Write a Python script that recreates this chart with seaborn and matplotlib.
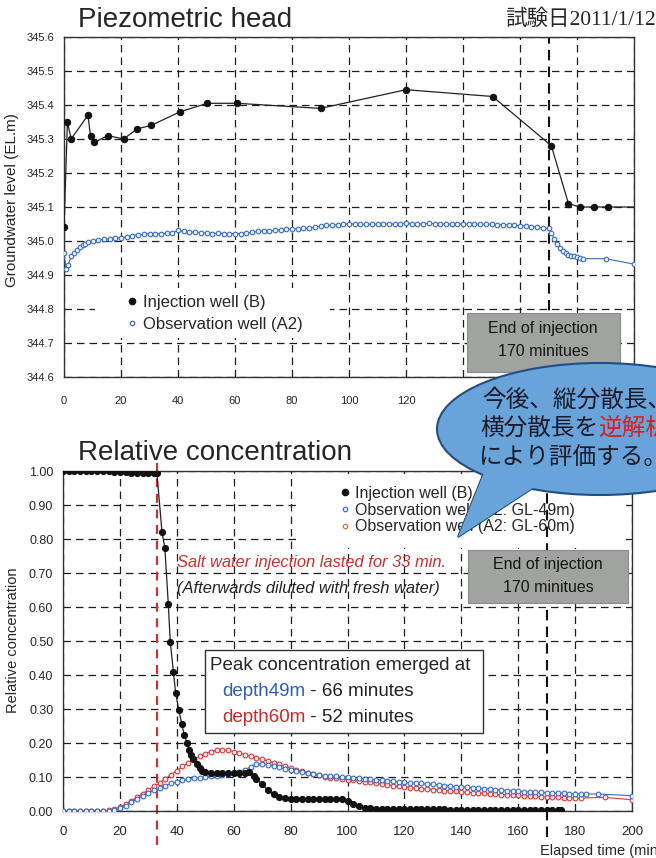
"""Piezometric head / relative concentration during the salt water tracer test."""

import matplotlib
matplotlib.use('Agg')
import matplotlib.pyplot as plt
import seaborn as sns
from matplotlib.patches import Rectangle, Ellipse, Polygon
from matplotlib.lines import Line2D

sns.set_style("white")
plt.rcParams['font.family'] = ['Liberation Sans', 'Noto Sans CJK JP', 'DejaVu Sans']

# ---- data ----
x_ticks = [0, 20, 40, 60, 80, 100, 120, 140, 160, 180, 200]
head_ticks = [344.6, 344.7, 344.8, 344.9, 345.0, 345.1, 345.2, 345.3, 345.4, 345.5, 345.6]
conc_ticks = [0.0, 0.1, 0.2, 0.3, 0.4, 0.5, 0.6, 0.7, 0.8, 0.9, 1.0]

# injection well (B), water level
inj_t_head = [0, 1.2, 2.5, 8.4, 9.3, 10.6, 15.4, 20.9, 25.7, 30.6, 40.7, 50.3,
              60.7, 90.0, 120.0, 150.4, 171.0, 177.0, 181.0, 186.0, 191.0, 200.0]
inj_head = [345.04, 345.35, 345.30, 345.37, 345.31, 345.29, 345.31, 345.30,
            345.33, 345.34, 345.38, 345.405, 345.405, 345.39, 345.445, 345.425,
            345.28, 345.11, 345.10, 345.10, 345.10, 345.10]

# observation well (A2), water level
obs_t_head = [0, 0.7, 1.5, 2.5, 3.5, 4.5, 5.5, 6.5, 7.5, 8.5,
              10, 12, 14, 16, 18, 20, 22, 24, 26, 28, 30, 32, 34, 36, 38,
              40, 42, 44, 46, 48, 50, 52, 54, 56, 58, 60, 62, 64, 66, 68,
              70, 72, 74, 76, 78, 80, 82, 84, 86, 88, 90, 92, 94, 96, 98,
              100, 102, 104, 106, 108, 110, 112, 114, 116, 118, 120, 122, 124, 126, 128,
              130, 132, 134, 136, 138, 140, 142, 144, 146, 148, 150, 152, 154, 156, 158,
              160, 162, 164, 166, 168, 170, 171, 172, 173, 174, 175, 176, 177, 178, 179,
              180, 181, 182, 190, 200]
obs_head = [344.965, 344.918, 344.930, 344.955, 344.965, 344.975, 344.982, 344.988, 344.992, 344.996,
            345.000, 345.003, 345.005, 345.006, 345.008, 345.010, 345.012, 345.016, 345.018, 345.020,
            345.021, 345.022, 345.022, 345.023, 345.024,
            345.031, 345.028, 345.026, 345.026, 345.025, 345.024, 345.022, 345.023, 345.022, 345.021,
            345.022, 345.022, 345.024, 345.026, 345.028,
            345.029, 345.030, 345.031, 345.033, 345.034, 345.035, 345.036, 345.037, 345.038, 345.040,
            345.044, 345.046, 345.047, 345.048, 345.049,
            345.050, 345.050, 345.050, 345.049, 345.050, 345.050, 345.051, 345.050, 345.050, 345.051,
            345.052, 345.051, 345.050, 345.051, 345.052,
            345.051, 345.050, 345.050, 345.050, 345.050, 345.050, 345.050, 345.049, 345.050, 345.049,
            345.049, 345.048, 345.048, 345.047, 345.046,
            345.045, 345.044, 345.042, 345.040, 345.039, 345.037, 345.025, 345.005, 344.990, 344.980,
            344.972, 344.965, 344.960, 344.957, 344.955,
            344.952, 344.950, 344.948, 344.948, 344.932]

# relative concentration, 2-minute readings
t2 = [0, 2, 4, 6, 8, 10, 12, 14, 16, 18, 20, 22, 24, 26, 28, 30, 32, 34, 36, 38,
      40, 42, 44, 46, 48, 50, 52, 54, 56, 58, 60, 62, 64, 66, 68, 70, 72, 74, 76, 78,
      80, 82, 84, 86, 88, 90, 92, 94, 96, 98, 100, 102, 104, 106, 108, 110, 112, 114, 116, 118,
      120, 122, 124, 126, 128, 130, 132, 134, 136, 138, 140, 142, 144, 146, 148, 150, 152, 154, 156, 158,
      160, 162, 164, 166, 168, 170, 172, 174, 176, 178, 180]

gl49_t = t2 + [182, 184, 188, 200]
gl49 = [0, 0, 0, 0, 0, 0, 0, 0, 0,
        .002, .008, .016, .026, .036, .045, .053, .061, .068, .075, .081,
        .086, .090, .093, .096, .098, .100, .102, .104, .106, .108, .111,
        .116, .122, .130, .138, .139, .136, .132, .128, .124, .120,
        .117, .114, .111, .108, .106, .104, .103, .102, .101, .100,
        .098, .097, .095, .094, .092, .091, .089, .088, .086, .085,
        .083, .082, .081, .079, .078, .077, .075, .074, .072, .071,
        .070, .068, .067, .065, .064, .063, .062, .060, .059, .058,
        .057, .056, .055, .055, .054, .053, .052, .052, .051, .051,
        .050, .050, .050, .045]

gl60_t = t2 + [182, 190.5, 200]
gl60 = [0, 0, 0, 0, 0, 0, 0, 0,
        .002, .006, .012, .020, .030, .040, .051, .062, .073, .083, .095, .107,
        .119, .131, .142, .152, .161, .169, .175, .179, .180, .178, .175,
        .171, .166, .161, .157, .152, .147, .142, .137, .132, .127,
        .122, .117, .113, .109, .105, .101, .098, .096, .094, .092,
        .090, .088, .086, .084, .081, .079, .077, .075, .073, .071,
        .069, .068, .066, .065, .063, .062, .060, .059, .058, .056,
        .055, .054, .053, .052, .050, .049, .048, .047, .047, .046,
        .045, .044, .043, .042, .042, .041, .040, .039, .039, .038,
        .038, .040, .033]

inj_t_conc = [0, 2, 4, 6, 8, 10, 12, 14, 16, 18, 20, 22, 24, 26, 28, 30, 32, 33,
              34.8, 35.8, 37.0, 37.7, 38.8, 39.6, 40.7, 41.7, 42.6, 43.6, 44.3, 45.1, 45.8,
              47, 48, 49, 50, 52, 54, 56, 58, 60, 62, 64, 65.5, 67, 68, 70, 72, 74, 76, 78,
              80, 82, 84, 86, 88, 90, 92, 94, 96, 98, 100, 102, 104, 106, 108, 110,
              112, 114, 116, 118, 120, 122, 124, 126, 128, 130, 132, 134,
              136, 138, 140, 142, 144, 146, 148, 150, 152, 154, 156, 158,
              160, 162, 164, 166, 168, 170, 172, 174, 175]
inj_conc = [1.0, 1.0, 1.0, 1.0, 1.0, 1.0, 1.0, 1.0, 1.0,
            .997, .996, .996, .995, .995, .995, .994, .994, .994,
            .82, .774, .61, .498, .41, .346, .297, .257, .225, .200, .180, .165, .153,
            .138, .127, .119, .114, .112, .111, .111, .111, .111, .112, .113, .115,
            .104, .094, .078, .062, .050, .042, .038,
            .036, .036, .036, .036, .036, .036, .036, .036, .036, .034, .029, .022, .015,
            .010, .008, .007,
            .006, .006, .006, .006, .006, .006, .006, .006, .006, .006, .006, .006,
            .002, .002, .002, .002, .002, .002, .002, .002, .002, .002, .002, .002,
            .002, .002, .002, .002, .002, .002, .002, .002, .002]

# ---- layout helpers (slide pixel coords -> figure fraction) ----
W, H = 656, 858


def fx(x):
    return x / W


def fy(y):
    return 1 - y / H


BLUE = '#3a6cc8'
RED = '#d63c3c'
GRID = dict(color='#1e1e1e', linestyle=(0, (6, 4)), linewidth=0.9)

fig = plt.figure(figsize=(6.56, 8.58), dpi=100)
ax1 = fig.add_axes([fx(64), fy(377), (634 - 64) / W, (377 - 37) / H])
ax2 = fig.add_axes([fx(63), fy(811), (632 - 63) / W, (811 - 471) / H])

for ax in (ax1, ax2):
    ax.set_xlim(0, 200)
    ax.set_xticks(x_ticks)
    ax.grid(True, **GRID)
    ax.set_axisbelow(True)
    ax.tick_params(length=0)
    for s in ax.spines.values():
        s.set_color('#333333')
        s.set_linewidth(1.0)
    ax.set_xlabel('')
    ax.set_ylabel('')

# ---- top: piezometric head ----
ax1.set_ylim(344.6, 345.6)
ax1.set_yticks(head_ticks)
ax1.set_yticklabels([f'{v:.1f}' for v in head_ticks])
ax1.tick_params(axis='y', labelsize=8, pad=7)
ax1.tick_params(axis='x', labelsize=8, pad=14)
ax1.axvline(170, color='#111111', linestyle=(0, (5, 3)), linewidth=1.5, zorder=1.2)

sns.lineplot(x=obs_t_head, y=obs_head, ax=ax1, color=BLUE, linewidth=0.8,
             marker='o', markersize=3.3, markerfacecolor='#eef3fb',
             markeredgecolor=BLUE, markeredgewidth=0.8, zorder=3)
sns.lineplot(x=inj_t_head, y=inj_head, ax=ax1, color='#222222', linewidth=0.9,
             marker='o', markersize=4.6, markerfacecolor='#111111',
             markeredgecolor='#111111', markevery=list(range(len(inj_t_head) - 1)),
             zorder=4)

ax1.add_patch(Rectangle((fx(95), fy(338)), (330 - 95) / W, (338 - 288) / H,
                        transform=fig.transFigure, facecolor='white',
                        edgecolor='none', zorder=1))
top_handles = [
    Line2D([], [], linestyle='none', marker='o', markersize=4.5,
           markerfacecolor='#111111', markeredgecolor='#111111'),
    Line2D([], [], linestyle='none', marker='o', markersize=3.2,
           markerfacecolor='white', markeredgecolor=BLUE, markeredgewidth=0.9),
]
ax1.legend(top_handles, ['Injection well (B)', 'Observation well (A2)'],
           loc='upper left', bbox_to_anchor=(fx(126), fy(294.5)),
           bbox_transform=fig.transFigure, frameon=False, fontsize=12,
           borderpad=0, borderaxespad=0, handlelength=0.7, handletextpad=0.32,
           labelspacing=0.42)

# ---- bottom: relative concentration ----
ax2.set_ylim(0, 1.0)
ax2.set_yticks(conc_ticks)
ax2.set_yticklabels([f'{v:.2f}' for v in conc_ticks])
ax2.tick_params(axis='y', labelsize=9, pad=7)
ax2.tick_params(axis='x', labelsize=9.5, pad=11)

ax2.axvline(170, ymin=-0.075, ymax=1.0, color='#111111', linestyle=(0, (5, 3)),
            linewidth=1.5, zorder=1.2, clip_on=False)
ax2.axvline(33, ymin=-0.1, ymax=1.025, color='#d03030', linestyle=(0, (4, 3)),
            linewidth=1.6, zorder=1.3, clip_on=False)

sns.lineplot(x=gl60_t, y=gl60, ax=ax2, color=RED, linewidth=0.8,
             marker='o', markersize=3.4, markerfacecolor='#fbeeee',
             markeredgecolor=RED, markeredgewidth=0.8, zorder=3)
sns.lineplot(x=gl49_t, y=gl49, ax=ax2, color=BLUE, linewidth=0.8,
             marker='o', markersize=3.4, markerfacecolor='#eef3fb',
             markeredgecolor=BLUE, markeredgewidth=0.8, zorder=3.1)
sns.lineplot(x=inj_t_conc, y=inj_conc, ax=ax2, color='#222222', linewidth=0.9,
             marker='o', markersize=4.4, markerfacecolor='#111111',
             markeredgecolor='#111111', zorder=4)

ax2.add_patch(Rectangle((fx(300), fy(548)), (622 - 300) / W, (548 - 479) / H,
                        transform=fig.transFigure, facecolor='white',
                        edgecolor='none', zorder=1))
bot_handles = [
    Line2D([], [], linestyle='none', marker='o', markersize=4.5,
           markerfacecolor='#111111', markeredgecolor='#111111'),
    Line2D([], [], linestyle='none', marker='o', markersize=3.2,
           markerfacecolor='white', markeredgecolor=BLUE, markeredgewidth=0.9),
    Line2D([], [], linestyle='none', marker='o', markersize=3.2,
           markerfacecolor='white', markeredgecolor='#d9703a', markeredgewidth=0.9),
]
ax2.legend(bot_handles, ['Injection well (B)', 'Observation well (A2: GL-49m)',
                         'Observation well (A2: GL-60m)'],
           loc='upper left', bbox_to_anchor=(fx(339), fy(486)),
           bbox_transform=fig.transFigure, frameon=False, fontsize=11.5,
           borderpad=0, borderaxespad=0, handlelength=0.73, handletextpad=0.27,
           labelspacing=0.1)

# ---- titles and axis labels ----
fig.text(fx(78), fy(20), 'Piezometric head', fontsize=20, va='center')
fig.text(fx(78), fy(453), 'Relative concentration', fontsize=20, va='center')
fig.text(fx(656), fy(20), '試験日2011/1/12', fontsize=15.5, va='center', ha='right',
         family=['Liberation Serif', 'Noto Sans CJK JP'])
fig.text(fx(12), fy(200), 'Groundwater level (EL.m)', fontsize=11, rotation=90,
         va='center', ha='center')
fig.text(fx(13), fy(640), 'Relative concentration', fontsize=10.5, rotation=90,
         va='center', ha='center')
fig.text(fx(540), fy(851), 'Elapsed time (min)', fontsize=10.5, va='center')

# ---- gray "end of injection" boxes ----
for (x0, y0, x1, y1) in [(467, 313, 620, 372), (468, 550, 628, 603)]:
    fig.add_artist(Rectangle((fx(x0), fy(y1)), (x1 - x0) / W, (y1 - y0) / H,
                             transform=fig.transFigure, facecolor='#a0a39f',
                             edgecolor='#8a8d8a', linewidth=0.8, zorder=3))
box_txt = dict(fontsize=11.5, ha='center', va='center', color='#151515', zorder=4)
fig.text(fx(543), fy(328), 'End of injection', **box_txt)
fig.text(fx(543), fy(351), '170 minitues', **box_txt)
fig.text(fx(548), fy(564), 'End of injection', **box_txt)
fig.text(fx(548), fy(588), '170 minitues', **box_txt)

# ---- annotations ----
fig.text(fx(177), fy(563), 'Salt water injection lasted for 33 min.', fontsize=11.9,
         style='italic', color='#c8312f', va='center')
fig.text(fx(177), fy(588), '(Afterwards diluted with fresh water)', fontsize=11.9,
         style='italic', color='#222222', va='center')

fig.add_artist(Rectangle((fx(205), fy(733)), (483 - 205) / W, (733 - 650) / H,
                         transform=fig.transFigure, facecolor='white',
                         edgecolor='#333333', linewidth=1.0, zorder=3))
renderer = fig.canvas.get_renderer()


def multicolor(x, y, parts, **kw):
    """Place consecutive text pieces of different colours on one line."""
    xf = fx(x)
    for txt, col in parts:
        t = fig.text(xf, fy(y), txt, color=col, va='center', **kw)
        bb = t.get_window_extent(renderer)
        xf = bb.x1 / fig.bbox.width


fig.text(fx(210), fy(666), 'Peak concentration emerged at', fontsize=13.5,
         va='center', zorder=4)
multicolor(222, 692, [('depth49m', '#2e5fb5'), (' - 66 minutes', '#222222')],
           fontsize=13.5, zorder=4)
multicolor(222, 718, [('depth60m', '#cc2a2a'), (' - 52 minutes', '#222222')],
           fontsize=13.5, zorder=4)

# ---- speech bubble ----
bubble_fill = '#68a3da'
bubble_edge = '#1f4f86'
tail = [(fx(458), fy(537)), (fx(485), fy(470)), (fx(545), fy(480))]
fig.add_artist(Polygon(tail, closed=True, transform=fig.transFigure,
                       facecolor=bubble_fill, edgecolor=bubble_edge,
                       linewidth=1.5, zorder=5))
fig.add_artist(Ellipse((fx(600), fy(429)), 326 / W, 132 / H,
                       transform=fig.transFigure, facecolor=bubble_fill,
                       edgecolor=bubble_edge, linewidth=1.5, zorder=5.1))
fig.add_artist(Polygon(tail, closed=True, transform=fig.transFigure,
                       facecolor=bubble_fill, edgecolor='none', zorder=5.2))

fig.text(fx(482), fy(400), '今後、縦分散長、', fontsize=17, va='center',
         color='#1b1b28', family=['Noto Sans CJK JP'], zorder=6)
multicolor(480, 428, [('横分散長を', '#1b1b28'), ('逆解析', '#d42020')],
           fontsize=17, family=['Noto Sans CJK JP'], zorder=6)
fig.text(fx(478), fy(457), 'により評価する。', fontsize=17, va='center',
         color='#1b1b28', family=['Noto Sans CJK JP'], zorder=6)

fig.savefig('out.png', dpi=100)
